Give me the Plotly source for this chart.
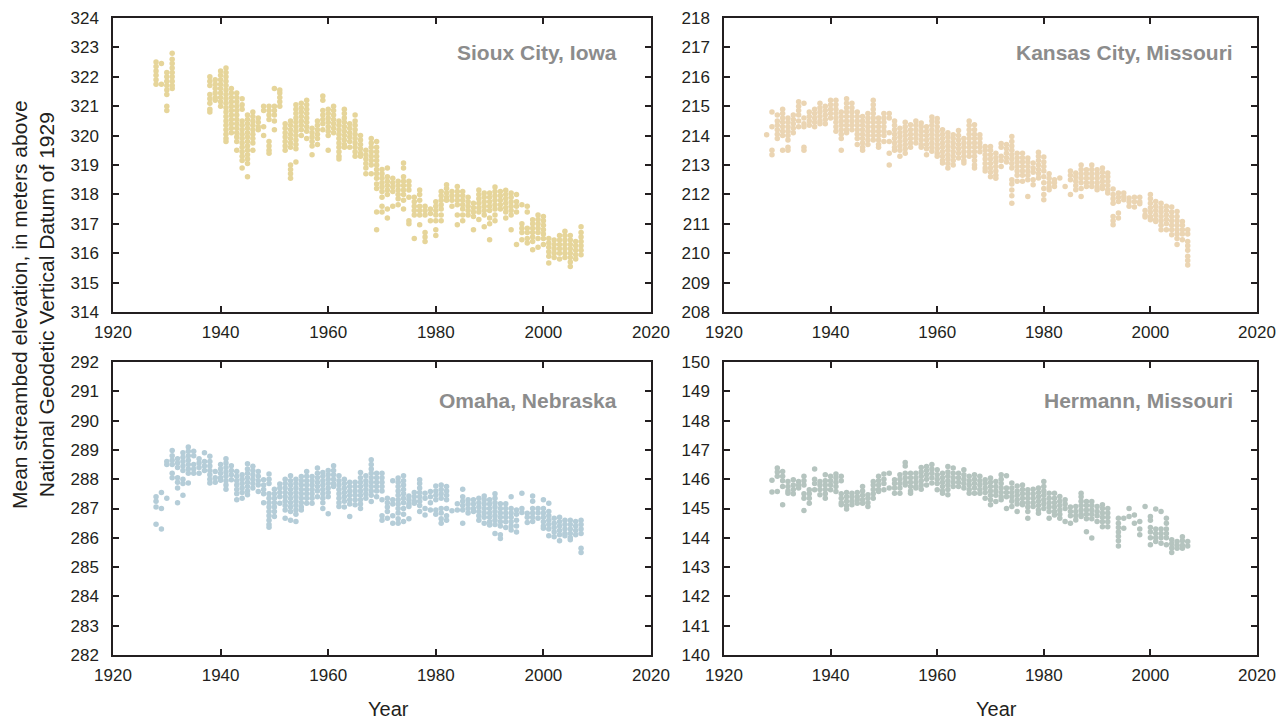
import plotly.graph_objects as go

# ---------------- Data ----------------
sioux_years = [1928, 1929, 1930, 1931, 1938, 1939, 1940, 1941, 1942, 1943, 1944, 1945, 1946, 1947, 1948, 1949,
               1950, 1951, 1952, 1953, 1954, 1955, 1956, 1957, 1958, 1959, 1960, 1961, 1962, 1963, 1964, 1965,
               1966, 1967, 1968, 1969, 1970, 1971, 1972, 1973, 1974, 1975, 1976, 1977, 1978, 1979, 1980, 1981,
               1982, 1983, 1984, 1985, 1986, 1987, 1988, 1989, 1990, 1991, 1992, 1993, 1994, 1995, 1996, 1997,
               1998, 1999, 2000, 2001, 2002, 2003, 2004, 2005, 2006, 2007]
sioux_vals = [
    [322.5, 322.35, 322.2, 322.05, 321.9, 321.75],
    [322.45, 321.75],
    [322.15, 322.0, 321.85, 321.7, 321.55, 321.4, 321.0, 320.85],
    [322.8, 322.6, 322.45, 322.3, 322.15, 322.0, 321.85, 321.7, 321.6],
    [322.0, 321.85, 321.7, 321.4, 321.25, 321.1, 320.9, 320.8],
    [321.9, 321.75, 321.6, 321.45, 321.3, 321.2],
    [322.2, 322.05, 321.9, 321.75, 321.6, 321.45, 321.3, 321.15, 321.0],
    [322.3, 322.15, 322.0, 321.85, 321.7, 321.55, 321.4, 321.25, 321.1, 320.95, 320.8, 320.65, 320.5, 320.35, 320.2, 320.05, 319.9, 319.8],
    [321.6, 321.45, 321.3, 321.15, 321.0, 320.85, 320.7, 320.55, 320.4, 320.25, 320.1],
    [321.45, 321.3, 321.15, 321.0, 320.85, 320.7, 320.55, 320.4, 320.25, 320.1, 319.95, 319.8, 319.5],
    [321.25, 321.05, 320.9, 320.5, 320.35, 320.2, 320.05, 319.9, 319.75, 319.6, 319.45, 319.3, 319.15, 318.9],
    [320.7, 320.55, 320.4, 320.25, 320.1, 319.95, 319.8, 319.65, 319.5, 319.35, 319.2, 319.05, 318.6],
    [320.8, 320.65, 320.5, 320.35, 320.2, 320.05, 319.9, 319.75, 319.5],
    [320.6, 320.45, 320.3, 320.2],
    [321.0, 320.85, 320.3, 320.0],
    [321.0, 320.85, 320.7, 320.55, 319.8, 319.65, 319.5, 319.4],
    [321.6, 321.0, 320.85, 320.7, 320.5, 320.2],
    [321.55, 321.45, 321.3, 321.15, 321.0],
    [320.4, 320.25, 320.1, 319.95, 319.8, 319.65, 319.5],
    [320.5, 320.35, 320.2, 320.05, 319.9, 319.75, 319.6, 319.0, 318.85, 318.7, 318.55],
    [321.05, 320.9, 320.75, 320.6, 320.45, 320.3, 320.15, 320.0, 319.85, 319.7, 319.55, 319.1],
    [321.1, 320.95, 320.8, 320.65, 320.5, 320.35, 320.2, 320.0],
    [321.2, 321.05, 320.9, 320.75, 320.6, 320.45, 320.3, 320.15, 319.9],
    [320.25, 320.1, 319.95, 319.8, 319.65, 319.35],
    [320.5, 320.35, 320.2, 320.05, 319.9, 319.7],
    [321.35, 321.2, 320.85, 320.7, 320.55, 320.4, 320.2],
    [320.9, 320.75, 320.6, 320.45, 320.3, 320.15, 320.0, 319.5],
    [321.0, 320.85, 320.7, 320.55, 320.4, 320.25, 320.1],
    [320.5, 320.35, 320.2, 320.05, 319.9, 319.75, 319.6, 319.45, 319.3, 319.2],
    [320.9, 320.75, 320.6, 320.45, 320.3, 320.15, 320.0, 319.85, 319.7, 319.6],
    [320.4, 320.25, 320.1, 319.95, 319.8, 319.6],
    [320.7, 320.5, 320.35, 320.2, 320.05, 319.9, 319.75, 319.6, 319.45, 319.3],
    [320.0, 319.85, 319.7, 319.55, 319.4, 319.3],
    [319.5, 319.35, 319.2, 319.05, 318.9, 318.7],
    [319.9, 319.75, 319.6, 319.45, 319.3, 319.15, 319.0, 318.7],
    [319.8, 319.6, 319.45, 319.3, 319.15, 319.0, 318.85, 318.7, 318.55, 318.35, 318.2, 317.4, 316.8],
    [318.85, 318.7, 318.55, 318.4, 318.25, 318.1, 317.9, 317.6, 317.4],
    [318.9, 318.6, 318.45, 318.3, 318.15, 318.0, 317.5, 317.2],
    [318.55, 318.4, 318.25, 318.1, 317.6],
    [318.45, 318.3, 318.15, 318.0, 317.85, 317.65],
    [319.07, 318.9, 318.6, 318.45, 318.3, 318.15, 318.0, 317.8, 317.5],
    [318.45, 318.3, 318.15, 317.9, 317.1, 317.0],
    [317.9, 317.75, 317.6, 317.45, 317.3, 316.5],
    [318.15, 318.0, 317.8, 317.6, 317.45, 317.3, 316.97],
    [317.6, 317.45, 317.3, 316.7, 316.55, 316.4],
    [317.5, 317.35, 317.1],
    [317.75, 317.6, 317.45, 317.3, 317.1, 316.8, 316.6],
    [318.1, 317.95, 317.8, 317.65, 317.5, 317.3, 317.1],
    [318.33, 318.2, 318.05, 317.9, 317.8],
    [318.1, 317.95, 317.8, 317.6],
    [318.27, 318.1, 317.95, 317.8, 317.65, 317.3, 316.97],
    [318.1, 317.95, 317.8, 317.65, 317.5, 317.3, 317.1],
    [317.9, 317.75, 317.6, 317.45, 317.3],
    [317.7, 317.55, 317.4, 317.25, 316.8],
    [318.15, 318.0, 317.85, 317.7, 317.55, 317.4, 317.15],
    [318.05, 317.9, 317.75, 317.6, 317.45, 317.3, 316.9],
    [318.05, 317.9, 317.75, 317.6, 317.45, 317.2, 317.0, 316.46],
    [318.25, 318.1, 317.95, 317.8, 317.65, 317.5, 317.3, 317.1],
    [318.1, 317.95, 317.8, 317.65, 317.5],
    [318.14, 318.0, 317.85, 317.7, 317.55, 317.4, 317.2],
    [318.05, 317.9, 317.75, 317.6, 317.45, 317.3, 316.8],
    [318.0, 317.75, 317.6, 317.4, 316.3],
    [317.65, 317.0, 316.85, 316.7, 316.46],
    [317.6, 317.4, 316.85, 316.7, 316.5, 316.35],
    [317.14, 317.0, 316.85, 316.7, 316.55, 316.4, 316.12],
    [317.3, 317.15, 317.0, 316.85, 316.7, 316.5, 316.2],
    [317.25, 317.1, 316.95, 316.8, 316.65, 316.5, 316.3],
    [316.5, 316.35, 316.2, 316.05, 315.9, 315.67],
    [316.45, 316.3, 316.15, 316.0, 315.85],
    [316.6, 316.45, 316.3, 316.15, 316.0, 315.8],
    [316.75, 316.6, 316.45, 316.3, 316.15, 316.0, 315.85],
    [316.6, 316.45, 316.3, 316.15, 316.0, 315.85, 315.7, 315.55],
    [316.4, 316.25, 316.1, 315.95, 315.8],
    [316.9, 316.7, 316.55, 316.4, 316.25, 316.1, 315.95],
]

kc_years = list(range(1928, 2008))
kc_vals = [
    [214.03],
    [214.8, 214.3, 213.5, 213.35],
    [214.7, 214.5, 214.35, 214.2, 214.05, 213.9],
    [214.9, 214.75, 214.6, 214.45, 214.3, 214.15, 214.0, 213.5],
    [214.6, 214.45, 214.3, 214.15, 214.0, 213.85, 213.6, 213.5],
    [214.7, 214.55, 214.4, 214.25, 214.1],
    [215.15, 215.0, 214.85, 214.7, 214.5, 214.3],
    [215.1, 214.6, 214.4, 214.3, 213.6, 213.5],
    [214.8, 214.65, 214.5, 214.35],
    [214.9, 214.75, 214.6, 214.45, 214.3],
    [215.1, 214.95, 214.8, 214.65, 214.5, 214.4],
    [215.0, 214.85, 214.7, 214.55, 214.4],
    [215.2, 215.05, 214.9, 214.75, 214.6],
    [215.2, 215.05, 214.9, 214.75, 214.6, 214.45, 214.3, 214.15],
    [214.8, 214.65, 214.5, 214.35, 214.2, 214.05, 213.9, 213.5],
    [215.25, 215.1, 214.95, 214.8, 214.65, 214.5, 214.35, 214.2, 214.1],
    [215.1, 214.95, 214.8, 214.65, 214.5, 214.35, 214.2],
    [214.8, 214.65, 214.5, 214.35, 214.2, 214.05, 213.9, 213.7],
    [214.65, 214.5, 214.35, 214.2, 214.05, 213.9, 213.75, 213.6, 213.5],
    [214.75, 214.6, 214.45, 214.3, 214.15, 214.0, 213.85, 213.7],
    [215.2, 215.05, 214.9, 214.75, 214.6, 214.45, 214.3, 214.15, 214.0, 213.85],
    [214.6, 214.45, 214.3, 214.15, 214.0, 213.85, 213.7, 213.6],
    [214.75, 214.6, 214.45, 214.3, 214.15, 214.0, 213.8],
    [214.75, 214.6, 214.1, 213.8, 213.4, 213.0],
    [214.5, 214.35, 214.2, 214.05, 213.9, 213.75, 213.6, 213.5],
    [214.25, 214.1, 213.95, 213.8, 213.65, 213.5, 213.3],
    [214.45, 214.3, 214.15, 214.0, 213.85, 213.7, 213.55, 213.4],
    [214.37, 214.2, 214.05, 213.9, 213.75, 213.6],
    [214.5, 214.35, 214.2, 214.05, 213.9, 213.75],
    [214.43, 214.3, 214.15, 214.0, 213.85, 213.7, 213.6],
    [214.3, 214.15, 214.0, 213.85, 213.7, 213.55, 213.35],
    [214.63, 214.5, 214.35, 214.2, 214.05, 213.9, 213.75, 213.6, 213.47],
    [214.58, 214.45, 214.3, 214.15, 214.0, 213.85, 213.7, 213.55, 213.4, 213.3],
    [214.2, 214.05, 213.9, 213.75, 213.6, 213.45, 213.3, 213.15, 213.07],
    [214.1, 213.95, 213.8, 213.65, 213.5, 213.35, 213.2, 213.05, 212.9],
    [214.03, 213.9, 213.75, 213.6, 213.45, 213.3, 213.15, 213.0],
    [214.17, 214.0, 213.85, 213.7, 213.55, 213.4, 213.24],
    [213.9, 213.75, 213.6, 213.45, 213.3, 213.15, 213.07],
    [214.5, 214.35, 214.2, 214.05, 213.9, 213.75, 213.6, 213.45, 213.3],
    [214.37, 214.2, 214.05, 213.9, 213.75, 213.6, 213.45, 213.3, 213.15, 213.0, 212.9],
    [214.03, 213.9, 213.75, 213.6, 213.45],
    [213.63, 213.5, 213.35, 213.2, 213.05, 212.9, 212.8],
    [213.63, 213.5, 213.35, 213.2, 213.05, 212.9, 212.75, 212.6],
    [213.4, 213.25, 213.1, 212.95, 212.8, 212.65, 212.55],
    [213.73, 213.6, 213.3, 213.15, 212.95],
    [213.7, 213.55, 213.4, 213.25, 213.1],
    [213.97, 213.8, 213.65, 213.5, 213.35, 213.2, 213.05, 212.9, 212.5, 212.35, 212.15, 211.95, 211.7],
    [213.4, 213.25, 213.1, 212.95, 212.8, 212.65, 212.45],
    [213.4, 213.25, 213.1, 212.95, 212.8, 212.65, 212.45],
    [213.24, 213.1, 212.95, 212.8, 212.65, 212.5, 211.93],
    [213.07, 212.9, 212.75, 212.5, 212.33],
    [213.43, 213.3, 213.15, 213.0, 212.85, 212.7, 212.56],
    [213.27, 213.1, 212.95, 212.8, 212.6, 212.4, 212.2, 212.0, 211.82],
    [212.7, 212.55, 212.4, 212.25, 212.16],
    [212.5, 212.4, 212.27],
    [212.56],
    [212.27],
    [212.8, 212.65, 212.5, 212.0],
    [212.73, 212.6, 212.45, 212.3, 212.16],
    [213.0, 212.85, 212.7, 212.55, 212.4, 212.2, 211.93],
    [212.84, 212.7, 212.55, 212.4, 212.27],
    [213.0, 212.85, 212.7, 212.55, 212.4, 212.27],
    [212.84, 212.7, 212.55, 212.4, 212.25, 212.16],
    [212.9, 212.75, 212.6, 212.45, 212.3, 212.2],
    [212.73, 212.6, 212.45, 212.3, 212.15, 212.05],
    [212.18, 212.0, 211.85, 211.7, 211.25, 211.1, 210.97],
    [212.05, 211.9, 211.76, 211.37, 211.2],
    [212.05, 211.93, 211.82],
    [211.88, 211.75, 211.6],
    [211.9, 211.75, 211.57],
    [211.9, 211.75, 211.68],
    [211.45, 211.3, 211.23],
    [212.0, 211.85, 211.7, 211.55, 211.4, 211.25, 211.14],
    [211.76, 211.6, 211.45, 211.3, 211.15, 211.08],
    [211.7, 211.55, 211.4, 211.25, 211.1, 210.95, 210.8],
    [211.6, 211.45, 211.3, 211.15, 211.0, 210.8],
    [211.57, 211.4, 211.25, 211.1, 210.95, 210.8, 210.63],
    [211.42, 211.25, 211.1, 210.95, 210.8, 210.65, 210.5, 210.3],
    [211.08, 210.95, 210.8, 210.65, 210.46],
    [210.8, 210.65, 210.4, 210.25, 210.1, 209.9, 209.75, 209.6],
]

omaha_years = list(range(1928, 2008))
omaha_vals = [
    [287.4, 287.25, 287.05, 286.46],
    [287.55, 287.0, 286.3],
    [288.6, 288.5, 287.35],
    [288.98, 288.8, 288.65, 288.5, 288.2, 288.05],
    [288.7, 288.55, 288.4, 288.05, 287.9, 287.7, 287.2],
    [288.9, 288.75, 288.6, 288.45, 288.3, 288.0, 287.85, 287.45],
    [289.1, 288.95, 288.8, 288.65, 288.5, 288.35, 288.2, 287.87],
    [288.95, 288.8, 288.5, 288.35, 288.2],
    [288.7, 288.55, 288.4, 288.2],
    [288.9, 288.6, 288.45, 288.3],
    [288.78, 288.6, 288.45, 288.3, 288.15, 288.0, 287.87],
    [288.26, 288.05, 287.9],
    [288.5, 288.35, 288.2, 288.05, 287.96],
    [288.7, 288.55, 288.4, 288.25, 288.1, 287.95, 287.8, 287.66],
    [288.46, 288.3, 288.15, 287.98],
    [288.26, 288.1, 287.95, 287.8, 287.65, 287.5, 287.3],
    [288.15, 288.0, 287.85, 287.7, 287.55, 287.35],
    [288.53, 288.35, 288.2, 288.05, 287.9, 287.75, 287.6, 287.47],
    [288.44, 288.3, 288.15, 288.0, 287.85, 287.7],
    [288.26, 288.1, 287.95, 287.8, 287.58],
    [287.98, 287.8, 287.65, 287.5, 287.2],
    [288.18, 288.0, 287.85, 287.5, 287.35, 287.2, 287.05, 286.9, 286.75, 286.6, 286.45, 286.36],
    [287.66, 287.5, 287.35, 287.2, 287.05, 286.9, 286.73],
    [287.84, 287.7, 287.55, 287.4, 287.18],
    [288.0, 287.85, 287.7, 287.55, 287.4, 287.25, 287.1, 286.95, 286.67],
    [288.12, 287.95, 287.8, 287.65, 287.5, 287.35, 287.2, 287.05, 286.9, 286.6],
    [288.0, 287.85, 287.7, 287.55, 287.4, 287.25, 287.1, 286.95, 286.8, 286.56],
    [288.09, 287.95, 287.8, 287.65, 287.5, 287.35, 287.2, 287.05, 286.95],
    [288.26, 288.1, 287.95, 287.8, 287.65, 287.5, 287.35, 287.18],
    [288.09, 287.95, 287.8, 287.65, 287.5, 287.35, 287.18],
    [288.38, 288.2, 288.05, 287.9, 287.75, 287.6, 287.4],
    [288.23, 288.1, 287.95, 287.8, 287.65, 287.5, 287.35, 287.2, 287.0],
    [288.3, 288.15, 288.0, 287.85, 287.7, 287.55, 287.4, 286.82],
    [288.46, 288.3, 288.15, 288.0, 287.85, 287.75],
    [288.12, 287.95, 287.8, 287.65, 287.5, 287.35, 287.2, 287.07],
    [288.0, 287.85, 287.7, 287.55, 287.4, 287.25, 287.05],
    [287.9, 287.75, 287.6, 287.45, 287.3, 287.15, 286.73],
    [287.9, 287.75, 287.6, 287.45, 287.3, 287.13],
    [288.23, 288.05, 287.9, 287.75, 287.6, 287.45, 287.3, 287.15, 287.0],
    [288.12, 287.95, 287.8, 287.65, 287.5, 287.35],
    [288.66, 288.5, 288.35, 288.2, 288.05, 287.9, 287.75, 287.6, 287.45, 287.24],
    [288.2, 288.05, 287.9, 287.75, 287.6, 287.4],
    [288.2, 288.05, 287.9, 287.75, 287.6, 287.3, 286.75, 286.6],
    [287.35, 287.2, 287.05, 286.9, 286.67],
    [287.95, 287.3, 287.15, 286.75, 286.5],
    [288.04, 287.9, 287.75, 287.6, 287.45, 287.3, 287.15, 287.0, 286.85, 286.65, 286.5],
    [288.12, 287.95, 287.8, 287.65, 287.5, 287.35, 287.2, 287.0, 286.8, 286.56],
    [287.43, 287.3, 287.15, 287.07, 286.65],
    [287.55, 287.4, 287.25, 287.18],
    [287.98, 287.85, 287.7, 287.55, 287.4, 287.25, 287.1, 286.9],
    [287.52, 287.35, 287.0, 286.78],
    [287.58, 287.4, 287.2, 286.95],
    [287.77, 287.6, 287.45, 287.3, 286.95, 286.8],
    [287.8, 287.65, 287.5, 287.35, 287.0, 286.85, 286.65, 286.5],
    [287.75, 287.6, 287.45, 287.3, 287.0, 286.75, 286.6],
    [286.92],
    [287.16, 286.95],
    [287.66, 287.4, 287.25, 287.1, 286.95, 286.5],
    [287.3, 287.15, 287.0, 286.85],
    [287.3, 287.15, 287.0, 286.9],
    [287.35, 287.2, 287.05, 286.9, 286.75, 286.6],
    [287.43, 287.3, 287.15, 287.0, 286.85, 286.7, 286.5],
    [287.3, 287.15, 287.0, 286.85, 286.7, 286.55, 286.44],
    [287.5, 287.35, 287.2, 287.05, 286.9, 286.75, 286.6, 286.45, 286.15],
    [287.16, 287.0, 286.85, 286.7, 286.55, 286.4, 286.1, 285.98],
    [287.16, 287.0, 286.85, 286.7, 286.55, 286.35],
    [287.4, 287.0, 286.85, 286.7, 286.55, 286.4, 286.27],
    [286.95, 286.8, 286.6, 286.4, 286.2],
    [287.52, 287.0, 286.86],
    [286.84, 286.7, 286.52],
    [287.43, 287.25, 287.0, 286.85, 286.7, 286.56],
    [287.0, 286.85, 286.67],
    [287.3, 287.0, 286.85, 286.7, 286.55, 286.4, 286.33],
    [287.18, 286.9, 286.75, 286.6, 286.45, 286.3, 286.07],
    [286.67, 286.5, 286.35, 286.2, 286.04],
    [286.7, 286.55, 286.4, 286.25, 286.1, 285.9],
    [286.6, 286.45, 286.3, 286.15, 286.07],
    [286.6, 286.45, 286.3, 286.15, 286.0, 285.93],
    [286.56, 286.4, 286.25, 286.1],
    [286.6, 286.45, 286.3, 286.15, 285.64, 285.5],
]

hermann_years = [1929, 1930, 1931, 1932, 1933, 1934, 1935, 1936, 1937, 1938, 1939, 1940, 1941, 1942, 1943, 1944,
                 1945, 1946, 1947, 1948, 1949, 1950, 1951, 1952, 1953, 1954, 1955, 1956, 1957, 1958, 1959, 1960,
                 1961, 1962, 1963, 1964, 1965, 1966, 1967, 1968, 1969, 1970, 1971, 1972, 1973, 1974, 1975, 1976,
                 1977, 1978, 1979, 1980, 1981, 1982, 1983, 1984, 1985, 1986, 1987, 1988, 1989, 1990, 1991, 1992,
                 1994, 1995, 1996, 1997, 1998, 1999, 2000, 2001, 2002, 2003, 2004, 2005, 2006, 2007]
hermann_vals = [
    [145.96, 145.56],
    [146.38, 146.25, 146.1, 145.58],
    [146.26, 146.1, 145.95, 145.75, 145.13],
    [145.92, 145.75, 145.6, 145.52],
    [145.98, 145.8, 145.65, 145.5],
    [145.92, 145.8, 145.7],
    [146.1, 145.95, 145.8, 145.5, 145.35, 144.93],
    [145.64, 145.5, 145.35, 145.18],
    [146.35, 146.0, 145.85, 145.64],
    [145.92, 145.8, 145.65, 145.47],
    [146.15, 145.95, 145.8, 145.65, 145.5, 145.35],
    [146.1, 145.95, 145.8, 145.64],
    [146.18, 146.05, 145.9, 145.75, 145.58],
    [146.1, 145.95, 145.5, 145.35, 145.2, 145.13],
    [145.55, 145.4, 145.25, 145.1, 144.98],
    [145.52, 145.4, 145.25, 145.13],
    [145.55, 145.4, 145.3, 145.18],
    [145.75, 145.6, 145.45, 145.3, 145.18],
    [145.47, 145.35, 145.2, 145.07],
    [145.92, 145.8, 145.65, 145.5, 145.35],
    [146.1, 145.95, 145.8, 145.65, 145.58],
    [146.18, 146.0, 145.85, 145.64],
    [146.2, 145.7],
    [145.98, 145.85, 145.7, 145.52],
    [146.15, 146.0, 145.85, 145.7, 145.52],
    [146.57, 146.45, 146.2, 146.05, 145.9, 145.8],
    [146.2, 146.05, 145.9, 145.75, 145.6, 145.52],
    [146.2, 146.05, 145.9, 145.75, 145.7],
    [146.4, 146.25, 146.1, 145.95, 145.8, 145.66],
    [146.43, 146.3, 146.15, 146.0, 145.8],
    [146.5, 146.35, 146.2, 146.05, 145.87],
    [146.32, 146.15, 146.0, 145.85, 145.64],
    [146.2, 146.05, 145.9, 145.75, 145.6, 145.52],
    [146.43, 146.25, 146.1, 145.95, 145.8, 145.65, 145.47],
    [146.38, 146.2, 146.05, 145.9, 145.75],
    [146.2, 146.05, 145.9, 145.75],
    [146.32, 146.15, 146.0, 145.85, 145.7],
    [146.1, 145.95, 145.8, 145.65, 145.52],
    [146.15, 146.0, 145.85, 145.7, 145.52],
    [146.1, 145.95, 145.8, 145.65, 145.52],
    [145.98, 145.85, 145.7, 145.55, 145.35],
    [146.04, 145.9, 145.75, 145.6, 145.45, 145.3, 145.13],
    [145.92, 145.75, 145.6, 145.45, 145.24],
    [146.15, 146.0, 145.85, 145.7, 145.55, 145.4, 145.3],
    [146.12, 145.7, 145.55, 145.4, 145.0],
    [145.87, 145.7, 145.55, 145.4, 145.25, 145.07],
    [145.77, 145.6, 145.45, 145.3, 145.15, 144.9],
    [145.8, 145.65, 145.5, 145.35, 145.2, 145.13],
    [145.64, 145.5, 145.35, 145.2, 145.05, 144.9, 144.67],
    [145.66, 145.5, 145.35, 145.2, 145.07],
    [145.7, 145.55, 145.4, 145.25, 145.1, 144.95, 144.84],
    [145.92, 145.75, 145.6, 145.45, 145.3, 145.15, 145.0],
    [145.52, 145.35, 145.2, 145.05, 144.9, 144.67],
    [145.52, 145.35, 145.2, 145.05, 144.9, 144.78],
    [145.41, 145.25, 145.1, 144.95, 144.8, 144.67],
    [145.3, 145.15, 145.0, 144.56],
    [145.05, 144.9, 144.75, 144.5],
    [145.07, 144.9, 144.75, 144.61],
    [145.52, 145.4, 145.25, 145.1, 144.95, 144.8, 144.73],
    [145.24, 145.1, 144.95, 144.8, 144.65, 144.21],
    [145.24, 145.1, 144.95, 144.8, 144.65, 143.99],
    [145.07, 144.9, 144.75, 144.56],
    [145.13, 145.0, 144.85, 144.7, 144.55, 144.38],
    [145.0, 144.85, 144.7, 144.55, 144.38],
    [144.67, 144.5, 144.35, 144.2, 144.05, 143.9, 143.72],
    [144.67, 144.33],
    [145.0, 144.73],
    [144.78, 144.5],
    [144.56, 144.3, 144.1],
    [145.07],
    [144.73, 144.6, 144.35, 144.2, 144.0, 143.76],
    [144.98, 144.3, 144.15, 144.0, 143.87],
    [144.9, 144.3, 144.15, 144.0, 143.81],
    [144.67, 144.5, 144.3, 144.15, 144.0, 143.76],
    [143.93, 143.8, 143.65, 143.5],
    [143.87, 143.75, 143.64],
    [144.04, 143.9, 143.75, 143.64],
    [143.87, 143.72],
]

station_names = ["Sioux City, Iowa", "Kansas City, Missouri", "Omaha, Nebraska", "Hermann, Missouri"]
station_colors = ["#e6d59a", "#ebd5b3", "#b5cdd8", "#b5c4bf"]
y_ranges = [[314, 324], [208, 218], [282, 292], [140, 150]]
x_ticks = [1920, 1940, 1960, 1980, 2000, 2020]

# ---------------- Figure ----------------
W, H = 1283, 721
FONT = "Liberation Sans Narrow, Arial Narrow, Liberation Sans, sans-serif"

def px_x(p):
    return p / W

def px_y(p):
    return 1 - p / H

# panel pixel boxes: (left, right, top, bottom)
boxes = [(113, 651, 18, 312), (724, 1257, 18, 312), (113, 651, 362, 655), (724, 1257, 362, 655)]
datasets = [(sioux_years, sioux_vals), (kc_years, kc_vals), (omaha_years, omaha_vals), (hermann_years, hermann_vals)]

fig = go.Figure()
layout = {}
annotations = []
for i, ((yrs, vals), box) in enumerate(zip(datasets, boxes)):
    xs, ys = [], []
    for yr, vl in zip(yrs, vals):
        for v in vl:
            xs.append(yr)
            ys.append(v)
    n = "" if i == 0 else str(i + 1)
    fig.add_trace(go.Scatter(
        x=xs, y=ys, mode="markers", xaxis="x" + n, yaxis="y" + n,
        marker=dict(size=5.5, color=station_colors[i], line=dict(width=0)),
        showlegend=False, hoverinfo="x+y"))
    l, r, t, b = box
    common = dict(showline=True, linecolor="#231f20", linewidth=1.5, mirror="ticks",
                  ticks="inside", ticklen=6, tickwidth=1.5, tickcolor="#231f20",
                  showgrid=False, zeroline=False, automargin=False,
                  tickfont=dict(family=FONT, size=17, color="#231f20"))
    layout["xaxis" + n] = dict(common, domain=[px_x(l), px_x(r)], range=[1920, 2020],
                               tickvals=x_ticks, anchor="y" + n, ticklabelstandoff=4)
    layout["yaxis" + n] = dict(common, domain=[px_y(b), px_y(t)], range=y_ranges[i],
                               dtick=1, anchor="x" + n, ticklabelstandoff=9)
    title_right = r - (32 if i in (0, 2) else 22)
    title_y = t + 35 if i < 2 else t + 38
    annotations.append(dict(
        text="<b>" + station_names[i] + "</b>", x=px_x(title_right), y=px_y(title_y),
        xref="paper", yref="paper", xanchor="right", yanchor="middle", showarrow=False,
        font=dict(family=FONT, size=21, color="#8c8c8c")))
    if i >= 2:
        annotations.append(dict(
            text="Year", x=px_x((l + r) / 2 + 6), y=px_y(709), xref="paper", yref="paper",
            xanchor="center", yanchor="middle", showarrow=False,
            font=dict(family=FONT, size=20, color="#231f20")))

annotations.append(dict(
    text="Mean streambed elevation, in meters above<br>National Geodetic Vertical Datum of 1929",
    x=px_x(33), y=px_y(305), xref="paper", yref="paper", xanchor="center", yanchor="middle",
    textangle=-90, showarrow=False, align="center",
    font=dict(family=FONT, size=21, color="#231f20")))

fig.update_layout(
    width=W, height=H, margin=dict(l=0, r=0, t=0, b=0, autoexpand=False),
    paper_bgcolor="white", plot_bgcolor="white",
    annotations=annotations, **layout)

fig.write_html("out.html")
